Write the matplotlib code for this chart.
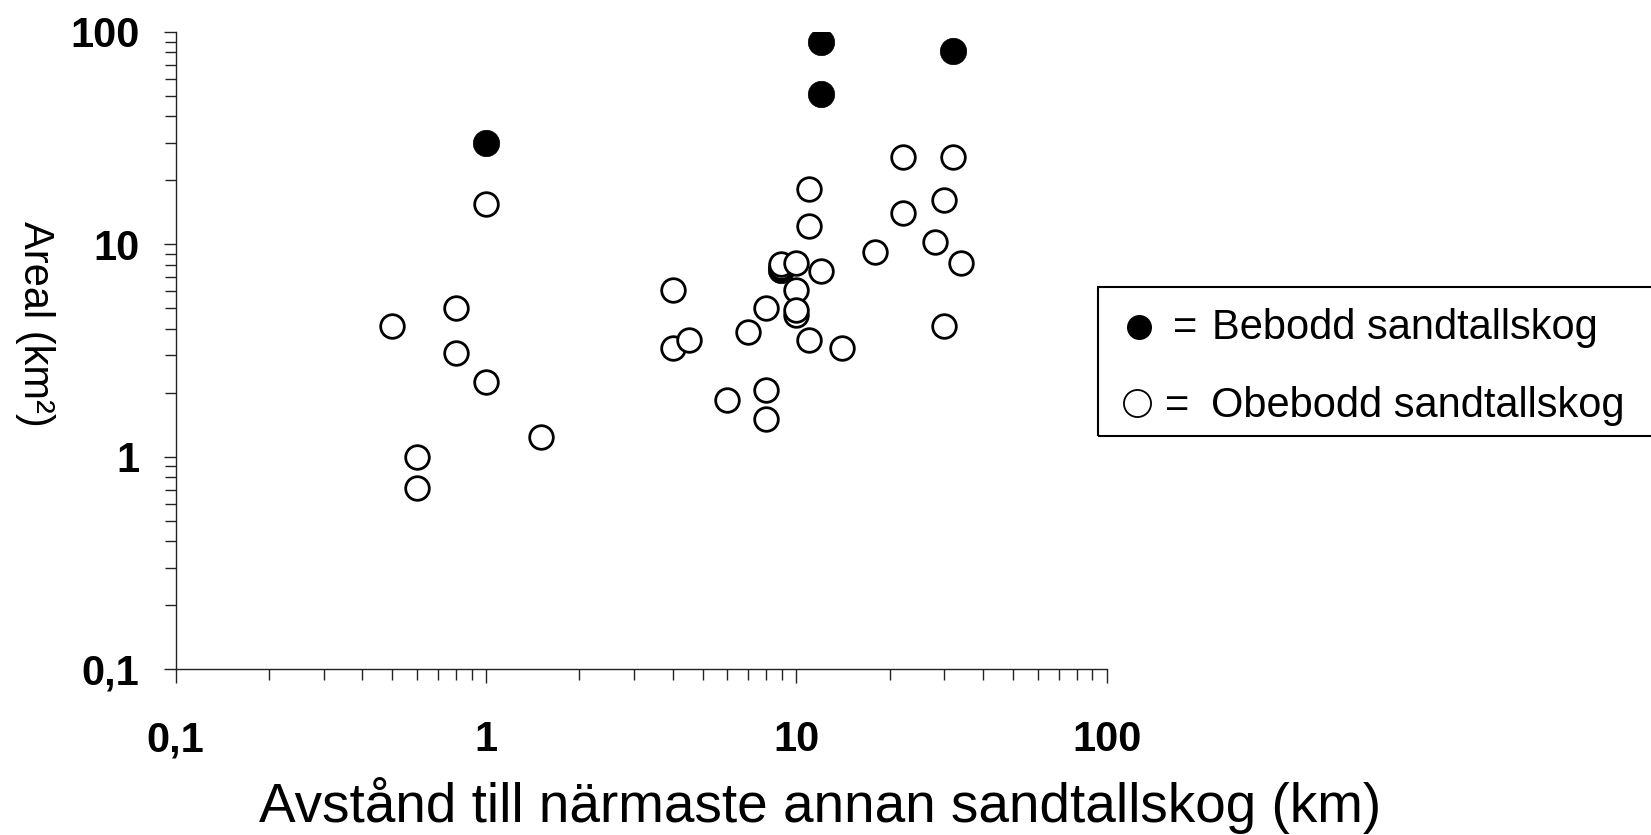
import matplotlib
matplotlib.use('Agg')
import matplotlib.pyplot as plt
from matplotlib.ticker import FixedLocator, FixedFormatter, LogLocator, NullFormatter
from matplotlib.lines import Line2D
from matplotlib.patches import Rectangle

# ---- data ----
inhabited_x = [1.0, 12, 12, 32, 8.9]
inhabited_y = [30, 90, 51, 81, 7.6]

uninhabited_x = [1.0, 0.5, 0.8, 0.8, 1.0, 1.5, 0.6, 0.6,
                 4.0, 4.0, 4.5, 6.0, 7.0, 8.0, 8.0, 8.0,
                 8.9, 8.9, 10, 10, 10, 10, 11, 11, 11, 12, 14,
                 18, 22, 22, 28, 30, 30, 32, 34]
uninhabited_y = [15.4, 4.1, 5.0, 3.07, 2.25, 1.24, 1.0, 0.71,
                 6.1, 3.26, 3.56, 1.84, 3.88, 5.0, 2.06, 1.5,
                 7.85, 8.1, 8.2, 6.1, 4.65, 4.9, 18.2, 12.2, 3.56, 7.5, 3.26,
                 9.15, 25.7, 14.0, 10.3, 16.2, 4.1, 25.7, 8.15]

tick_values = [0.1, 1, 10, 100]
tick_labels = ['0,1', '1', '10', '100']

x_label = 'Avstånd till närmaste annan sandtallskog (km)'
y_label = 'Areal (km²)'
legend_labels = ['Bebodd sandtallskog', 'Obebodd sandtallskog']

plt.rcParams['font.family'] = ['Liberation Sans', 'DejaVu Sans']

W, H = 1651, 835
fig = plt.figure(figsize=(W / 100, H / 100), dpi=100)
ax = fig.add_axes([175.5 / W, 1 - 669 / H, (1106.6 - 175.5) / W, (669 - 31.9) / H])
ax.set_xscale('log')
ax.set_yscale('log')
ax.set_xlim(0.1, 100)
ax.set_ylim(0.1, 100)

ax.plot(inhabited_x, inhabited_y, linestyle='none', marker='o', ms=19,
        mfc='black', mec='black', mew=0.5, zorder=3)
ax.plot(uninhabited_x, uninhabited_y, linestyle='none', marker='o', ms=17,
        mfc='white', mec='black', mew=2.0, zorder=4)

for s in ['top', 'right']:
    ax.spines[s].set_visible(False)
for s in ['left', 'bottom']:
    ax.spines[s].set_linewidth(1.0)
    ax.spines[s].set_color('#222222')

for axis in (ax.xaxis, ax.yaxis):
    axis.set_major_locator(FixedLocator(tick_values))
    axis.set_major_formatter(FixedFormatter(tick_labels))
    axis.set_minor_locator(LogLocator(base=10, subs=range(2, 10)))
    axis.set_minor_formatter(NullFormatter())

ax.tick_params(axis='y', which='major', direction='out', length=9, width=1,
               pad=17, labelsize=30, color='#222222')
ax.tick_params(axis='y', which='minor', direction='out', length=8, width=1,
               color='#222222')
ax.tick_params(axis='x', which='major', direction='out', length=10, width=1,
               pad=27, labelsize=30, color='#222222')
ax.tick_params(axis='x', which='minor', direction='out', length=8, width=1,
               color='#222222')
for lab in ax.get_xticklabels() + ax.get_yticklabels():
    lab.set_fontweight('bold')

# axis titles
fig.text(820 / W, 1 - 822 / H, x_label, ha='center', va='baseline', fontsize=39.5)
fig.text(35 / W, 1 - 324 / H, y_label, ha='center', va='center',
         rotation=270, fontsize=30)

# legend box
fig.add_artist(Rectangle((1097.5 / W, 1 - 435.5 / H), 0.5, (435.5 - 286.7) / H,
                         transform=fig.transFigure, fill=False,
                         lw=1.5, ec='black'))
fig.add_artist(Line2D([1139.3 / W], [1 - 326.7 / H], transform=fig.transFigure,
                      linestyle='none', marker='o', ms=18, mfc='black', mec='black', mew=0))
fig.text(1184.7 / W, 1 - 339 / H, '=', ha='center', va='baseline', fontsize=30)
fig.text(1212 / W, 1 - 339 / H, legend_labels[0], ha='left', va='baseline', fontsize=30)
fig.add_artist(Line2D([1136.7 / W], [1 - 402.7 / H], transform=fig.transFigure,
                      linestyle='none', marker='o', ms=19.5, mfc='white', mec='black', mew=1.3))
fig.text(1176.7 / W, 1 - 416.5 / H, '=', ha='center', va='baseline', fontsize=30)
fig.text(1210.7 / W, 1 - 416.5 / H, legend_labels[1], ha='left', va='baseline', fontsize=30)

fig.savefig('out.png', dpi=100)
